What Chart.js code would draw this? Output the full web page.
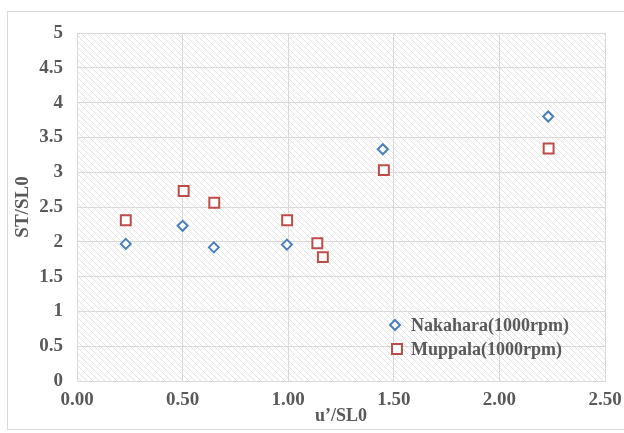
<!DOCTYPE html>
<html>
<head>
<meta charset="utf-8">
<script src="https://cdn.jsdelivr.net/npm/chart.js@4"></script>
<style>
  html, body { margin: 0; padding: 0; background: #fff; }
  #wrap { width: 624px; height: 433px; }
</style>
</head>
<body>
<div id="wrap"><canvas id="myChart" width="624" height="433"></canvas></div>
<script>
// values
const nakaharaX = [0.231, 0.500, 0.648, 0.994, 1.448, 2.231];
const nakaharaY = [1.97, 2.23, 1.92, 1.96, 3.33, 3.80];
const muppalaX = [0.231, 0.505, 0.650, 0.995, 1.138, 1.164, 1.453, 2.233];
const muppalaY = [2.31, 2.73, 2.56, 2.31, 1.98, 1.78, 3.03, 3.34];
const seriesNames = ["Nakahara(1000rpm)", "Muppala(1000rpm)"];
const xTitle = "u\u2019/SL0";
const yTitle = "ST/SL0";

const toPoints = (xs, ys) => xs.map((x, i) => ({ x: x, y: ys[i] }));

const textColor = "#595959";
const gridColor = "#d9d9d9";
const fontFamily = "'Liberation Serif', 'Times New Roman', serif";

// diagonal hatch for the plot area
const makeHatch = (ctx) => {
  const s = 6;
  const c = document.createElement("canvas");
  c.width = s;
  c.height = s;
  const g = c.getContext("2d");
  g.fillStyle = "#ffffff";
  g.fillRect(0, 0, s, s);
  g.strokeStyle = "#e2e2e2";
  g.lineWidth = 1;
  g.beginPath();
  g.moveTo(-1, -1);
  g.lineTo(s + 1, s + 1);
  g.moveTo(-1, s - 1);
  g.lineTo(1, s + 1);
  g.moveTo(s - 1, -1);
  g.lineTo(s + 1, 1);
  g.stroke();
  return ctx.createPattern(c, "repeat");
};

const backgroundPlugin = {
  id: "background",
  beforeDraw(chart) {
    const ctx = chart.ctx;
    const a = chart.chartArea;
    ctx.save();
    ctx.fillStyle = "#fff";
    ctx.fillRect(0, 0, chart.width, chart.height);
    ctx.strokeStyle = "#d9d9d9";
    ctx.lineWidth = 1;
    ctx.strokeRect(7.5, 11.5, 640, 418);
    ctx.fillStyle = makeHatch(ctx);
    ctx.fillRect(a.left, a.top, a.right - a.left, a.bottom - a.top);
    ctx.restore();
  },
};

// legend drawn inside the plot area, bottom right
const legendPlugin = {
  id: "innerLegend",
  afterDatasetsDraw(chart) {
    const ctx = chart.ctx;
    const spots = [
      { mx: 395, tx: 411, y: 325 },
      { mx: 397, tx: 411, y: 349 },
    ];
    ctx.save();
    chart.data.datasets.forEach((ds, i) => {
      const s = spots[i];
      ctx.fillStyle = "#fff";
      ctx.strokeStyle = ds.borderColor;
      ctx.lineWidth = ds.borderWidth;
      Chart.helpers.drawPoint(ctx, {
        pointStyle: ds.pointStyle,
        radius: ds.pointRadius,
        borderWidth: ds.borderWidth,
        rotation: 0,
      }, s.mx, s.y);
      ctx.fillStyle = textColor;
      ctx.font = "bold 18px " + fontFamily;
      ctx.textBaseline = "middle";
      ctx.textAlign = "left";
      ctx.fillText(ds.label, s.tx, s.y + 1);
    });
    ctx.restore();
  },
};

const ctx = document.getElementById("myChart").getContext("2d");
const myChart = new Chart(ctx, {
  type: "scatter",
  data: {
    datasets: [
      {
        label: seriesNames[0],
        data: toPoints(nakaharaX, nakaharaY),
        pointStyle: "rectRot",
        pointRadius: 5,
        pointHoverRadius: 5,
        borderWidth: 2,
        borderColor: "#4a7ebb",
        backgroundColor: "#ffffff",
      },
      {
        label: seriesNames[1],
        data: toPoints(muppalaX, muppalaY),
        pointStyle: "rect",
        pointRadius: 7,
        pointHoverRadius: 7,
        borderWidth: 2,
        borderColor: "#be4b48",
        backgroundColor: "#ffffff",
      },
    ],
  },
  options: {
    responsive: false,
    animation: false,
    layout: { padding: { left: 12, right: 19, top: 33, bottom: 6 } },
    plugins: {
      legend: { display: false },
      tooltip: { enabled: false },
    },
    scales: {
      x: {
        type: "linear",
        min: 0,
        max: 2.5,
        ticks: {
          stepSize: 0.5,
          color: textColor,
          padding: 8,
          font: { family: fontFamily, size: 19, weight: "bold" },
          callback: (v) => v.toFixed(2),
        },
        grid: { color: gridColor, drawTicks: false },
        border: { color: gridColor },
        title: {
          display: true,
          text: xTitle,
          color: textColor,
          padding: 0,
          font: { family: fontFamily, size: 18, weight: "bold" },
        },
        afterFit: (scale) => {
          scale.height = 433 - 381 - 6;
          scale.paddingLeft = 0;
          scale.paddingRight = 0;
        },
      },
      y: {
        type: "linear",
        min: 0,
        max: 5,
        ticks: {
          stepSize: 0.5,
          color: textColor,
          padding: 14,
          font: { family: fontFamily, size: 19, weight: "bold" },
          callback: (v) => String(v),
        },
        grid: { color: gridColor, drawTicks: false },
        border: { color: gridColor },
        title: {
          display: true,
          text: yTitle,
          color: textColor,
          padding: 0,
          font: { family: fontFamily, size: 19, weight: "bold" },
        },
        afterFit: (scale) => { scale.width = 77 - 12; },
      },
    },
  },
  plugins: [backgroundPlugin, legendPlugin],
});
</script>
</body>
</html>
